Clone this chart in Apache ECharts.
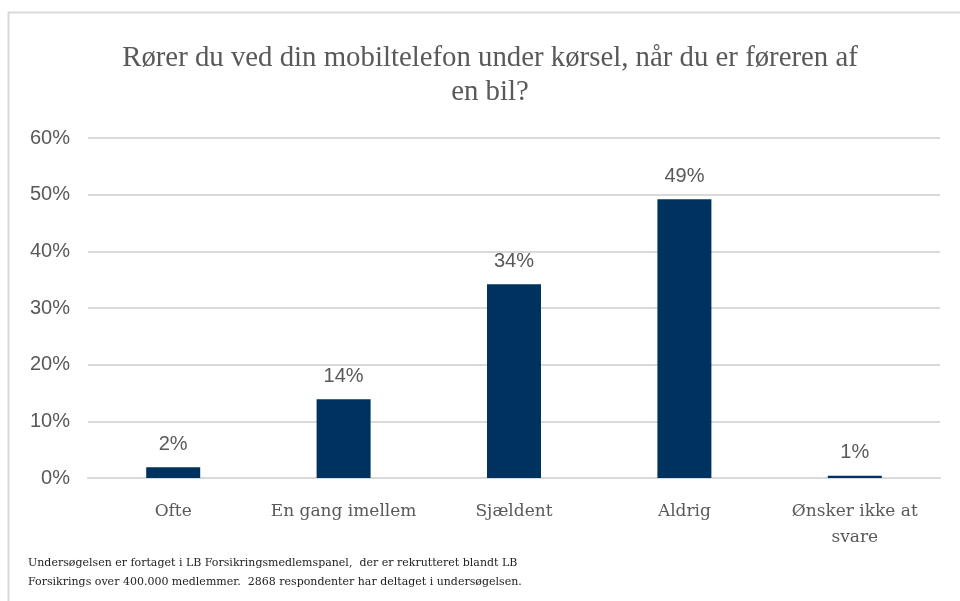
<!DOCTYPE html>
<html>
<head>
<meta charset="utf-8">
<script src="https://cdn.jsdelivr.net/npm/echarts@6/dist/echarts.min.js"></script>
<style>
  html, body { margin: 0; padding: 0; background: #fff; }
  #chart { width: 960px; height: 601px; }
</style>
</head>
<body>
<div id="chart"></div>
<script>
var categories = ['Ofte', 'En gang imellem', 'Sjældent', 'Aldrig', 'Ønsker ikke at\nsvare']
var values = [1.9, 13.9, 34.2, 49.2, 0.4]
var valueLabels = ['2%', '14%', '34%', '49%', '1%']
var yTicks = [0, 10, 20, 30, 40, 50, 60]

var titleText = 'Rører du ved din mobiltelefon under kørsel, når du er føreren af\nen bil?'
var noteText = 'Undersøgelsen er fortaget i LB Forsikringsmedlemspanel,  der er rekrutteret blandt LB\nForsikrings over 400.000 medlemmer.  2868 respondenter har deltaget i undersøgelsen.'

var myChart = echarts.init(document.getElementById('chart'))
var option = {
    animation: false,
    title: {
        text: titleText,
        left: 485,
        textAlign: 'center',
        top: 36,
        textStyle: {
            fontFamily: 'Liberation Serif',
            fontWeight: 'normal',
            fontSize: 28.8,
            lineHeight: 34,
            color: '#595959'
        }
    },
    graphic: [
        {
            type: 'rect',
            shape: { x: 8.5, y: 12.5, width: 1000, height: 700 },
            style: { fill: 'none', stroke: '#d9d9d9', lineWidth: 2 },
            silent: true
        },
        {
            type: 'text',
            left: 28,
            top: 554,
            style: {
                text: noteText,
                fontFamily: 'DejaVu Serif',
                fontSize: 11,
                lineHeight: 19,
                fill: '#222'
            }
        }
    ],
    grid: {
        left: 88,
        right: 20,
        top: 138,
        bottom: 123
    },
    xAxis: {
        type: 'category',
        data: categories,
        axisTick: { show: false },
        axisLine: { lineStyle: { color: '#d9d9d9', width: 2 } },
        axisLabel: {
            interval: 0,
            margin: 21,
            fontFamily: 'DejaVu Serif',
            fontSize: 17,
            lineHeight: 26,
            color: '#595959'
        }
    },
    yAxis: {
        type: 'value',
        min: yTicks[0],
        max: yTicks[yTicks.length - 1],
        interval: 10,
        axisLine: { show: false },
        axisTick: { show: false },
        splitLine: { lineStyle: { color: '#d9d9d9', width: 2 } },
        axisLabel: {
            margin: 18,
            formatter: '{value}%',
            fontFamily: 'Liberation Sans',
            fontSize: 20,
            color: '#595959'
        }
    },
    series: [
        {
            type: 'bar',
            data: values,
            barWidth: 54,
            itemStyle: { color: '#00325f' },
            label: {
                show: true,
                position: 'top',
                distance: 13,
                fontFamily: 'Liberation Sans',
                fontSize: 20,
                color: '#595959',
                formatter: function (p) {
                    return valueLabels[p.dataIndex]
                }
            }
        }
    ]
}
myChart.setOption(option)
</script>
</body>
</html>
